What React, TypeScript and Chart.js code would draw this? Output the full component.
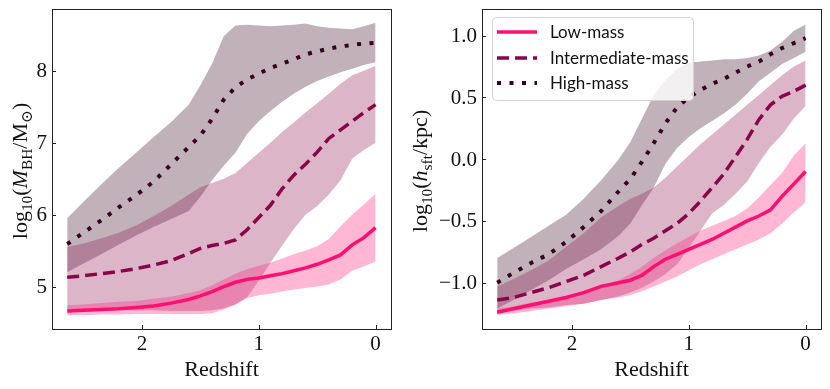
import React, { useEffect, useRef } from 'react';
import { Chart, registerables } from 'chart.js';
Chart.register(...registerables);

// ---------- data ----------
const redshift = [2.64, 2.5, 2.35, 2.2, 2.05, 1.9, 1.75, 1.6, 1.5, 1.4, 1.3, 1.2, 1.1, 1.0, 0.9, 0.8, 0.7, 0.6, 0.5, 0.4, 0.3, 0.2, 0.1, 0.0];

// left panel: log10(M_BH / Msun)
const bhLowMed = [4.66, 4.67, 4.68, 4.69, 4.71, 4.73, 4.77, 4.82, 4.87, 4.93, 5.0, 5.06, 5.1, 5.12, 5.15, 5.18, 5.22, 5.26, 5.31, 5.37, 5.44, 5.58, 5.68, 5.82];
const bhLowHi = [4.74, 4.75, 4.77, 4.79, 4.8, 4.83, 4.86, 4.91, 4.95, 5.02, 5.1, 5.18, 5.24, 5.29, 5.33, 5.39, 5.45, 5.5, 5.56, 5.66, 5.84, 6.0, 6.14, 6.29];
const bhLowLo = [4.6, 4.6, 4.61, 4.61, 4.62, 4.62, 4.62, 4.62, 4.62, 4.63, 4.68, 4.75, 4.84, 4.88, 4.9, 4.93, 4.96, 4.98, 5.0, 5.03, 5.1, 5.22, 5.28, 5.35];
const bhIntMed = [5.13, 5.15, 5.18, 5.21, 5.25, 5.3, 5.36, 5.46, 5.53, 5.57, 5.6, 5.65, 5.79, 5.96, 6.13, 6.36, 6.55, 6.7, 6.87, 7.06, 7.18, 7.3, 7.42, 7.53];
const bhIntHi = [5.55, 5.6, 5.67, 5.75, 5.85, 5.98, 6.12, 6.28, 6.38, 6.44, 6.5, 6.58, 6.72, 6.86, 7.0, 7.15, 7.28, 7.42, 7.55, 7.68, 7.82, 7.94, 8.0, 8.07];
const bhIntLo = [4.68, 4.68, 4.68, 4.68, 4.67, 4.67, 4.66, 4.66, 4.66, 4.67, 4.7, 4.75, 4.85, 5.08, 5.33, 5.57, 5.8, 6.0, 6.12, 6.28, 6.48, 6.78, 6.9, 7.0];
const bhHighMed = [5.59, 5.75, 5.92, 6.1, 6.27, 6.46, 6.7, 6.94, 7.1, 7.33, 7.6, 7.77, 7.88, 7.96, 8.04, 8.1, 8.16, 8.23, 8.27, 8.31, 8.34, 8.36, 8.38, 8.39];
const bhHighHi = [5.95, 6.18, 6.42, 6.65, 6.86, 7.08, 7.29, 7.53, 7.8, 8.1, 8.48, 8.63, 8.64, 8.63, 8.62, 8.63, 8.64, 8.66, 8.62, 8.6, 8.59, 8.58, 8.62, 8.67];
const bhHighLo = [5.2, 5.32, 5.45, 5.58, 5.71, 5.83, 5.94, 6.05, 6.25, 6.48, 6.68, 6.86, 7.12, 7.3, 7.44, 7.57, 7.68, 7.78, 7.86, 7.92, 7.98, 8.03, 8.08, 8.12];

// right panel: log10(h_sft / kpc)
const hLowMed = [-1.24, -1.21, -1.18, -1.15, -1.12, -1.08, -1.03, -1.0, -0.98, -0.94, -0.87, -0.81, -0.77, -0.73, -0.69, -0.65, -0.6, -0.55, -0.5, -0.46, -0.41, -0.3, -0.2, -0.1];
const hLowHi = [-1.21, -1.19, -1.16, -1.14, -1.11, -1.08, -1.03, -0.98, -0.93, -0.87, -0.8, -0.74, -0.68, -0.63, -0.58, -0.54, -0.5, -0.46, -0.4, -0.31, -0.21, -0.11, 0.03, 0.13];
const hLowLo = [-1.26, -1.25, -1.23, -1.21, -1.19, -1.17, -1.14, -1.12, -1.1, -1.07, -1.03, -0.99, -0.95, -0.9, -0.85, -0.81, -0.77, -0.73, -0.69, -0.65, -0.6, -0.52, -0.43, -0.35];
const hIntMed = [-1.14, -1.12, -1.08, -1.04, -0.99, -0.94, -0.87, -0.8, -0.75, -0.69, -0.64, -0.58, -0.52, -0.44, -0.34, -0.23, -0.12, 0.02, 0.16, 0.32, 0.44, 0.51, 0.55, 0.6];
const hIntHi = [-1.03, -0.97, -0.9, -0.82, -0.71, -0.6, -0.47, -0.38, -0.32, -0.28, -0.23, -0.15, -0.06, 0.03, 0.12, 0.2, 0.28, 0.36, 0.44, 0.52, 0.6, 0.68, 0.75, 0.8];
const hIntLo = [-1.25, -1.23, -1.21, -1.2, -1.18, -1.17, -1.14, -1.11, -1.08, -1.04, -0.99, -0.93, -0.85, -0.72, -0.58, -0.44, -0.37, -0.28, -0.18, -0.03, 0.1, 0.2, 0.33, 0.43];
const hHighMed = [-1.0, -0.92, -0.84, -0.77, -0.67, -0.55, -0.42, -0.26, -0.16, -0.02, 0.13, 0.29, 0.42, 0.5, 0.56, 0.61, 0.65, 0.7, 0.75, 0.79, 0.85, 0.9, 0.94, 0.98];
const hHighHi = [-0.8, -0.72, -0.63, -0.54, -0.45, -0.32, -0.17, 0.0, 0.14, 0.33, 0.52, 0.64, 0.73, 0.78, 0.79, 0.8, 0.81, 0.81, 0.82, 0.84, 0.88, 0.95, 1.04, 1.09];
const hHighLo = [-1.21, -1.14, -1.06, -0.98, -0.89, -0.81, -0.73, -0.62, -0.52, -0.37, -0.23, -0.04, 0.09, 0.18, 0.25, 0.31, 0.37, 0.44, 0.53, 0.63, 0.7, 0.77, 0.82, 0.87];

const xTicks = [2, 1, 0];
const xTickLabels = ['2', '1', '0'];
const bhTicks = [5, 6, 7, 8];
const bhTickLabels = ['5', '6', '7', '8'];
const hTicks = [-1, -0.5, 0, 0.5, 1];
const hTickLabels = ['\u22121.0', '\u22120.5', '0.0', '0.5', '1.0'];
const seriesNames = ['Low-mass', 'Intermediate-mass', 'High-mass'];

// ---------- styles ----------
const lineColors = ['#ff0f6f', '#8a0548', '#3a0020'];
const bandColors = ['rgba(255,15,111,0.30)', 'rgba(140,10,75,0.30)', 'rgba(50,0,28,0.30)'];
const dashes: number[][] = [[], [12, 6], [4, 8.5]];
const widths = [3.5, 3.5, 4];

const SERIF = '"Liberation Serif", "DejaVu Serif", serif';

type Seg = { t: string; it?: boolean; sub?: boolean };

function pts(ys: number[]) {
  return redshift.map((x, i) => ({ x, y: ys[i] }));
}

function buildDatasets(med: number[][], hi: number[][], lo: number[][]) {
  const ds: any[] = [];
  for (let k = 0; k < 3; k++) {
    const loIdx = ds.length;
    ds.push({
      data: pts(lo[k]), borderColor: 'rgba(0,0,0,0)', borderWidth: 1, pointRadius: 0,
      fill: false, order: 2, tension: 0,
    });
    ds.push({
      data: pts(hi[k]), borderColor: 'rgba(0,0,0,0)', borderWidth: 1, pointRadius: 0,
      fill: { target: loIdx }, backgroundColor: bandColors[k], order: 2, tension: 0,
    });
  }
  for (let k = 0; k < 3; k++) {
    ds.push({
      data: pts(med[k]), borderColor: lineColors[k], borderWidth: widths[k], borderDash: dashes[k],
      borderCapStyle: 'butt', pointRadius: 0, fill: false, order: 3 - k - 3 + k * 0, tension: 0,
    });
  }
  return ds;
}

function drawRich(ctx: CanvasRenderingContext2D, segs: Seg[], size: number) {
  const sub = size * 0.7;
  const fontFor = (s: Seg) => `${s.it ? 'italic ' : ''}${s.sub ? sub : size}px ${SERIF}`;
  let total = 0;
  for (const s of segs) { ctx.font = fontFor(s); total += ctx.measureText(s.t).width; }
  let x = -total / 2;
  ctx.textAlign = 'left';
  ctx.textBaseline = 'alphabetic';
  for (const s of segs) {
    ctx.font = fontFor(s);
    ctx.fillText(s.t, x, s.sub ? size * 0.22 : 0);
    x += ctx.measureText(s.t).width;
  }
}

function decorPlugin(cfg: {
  yTicks: number[]; yLabels: string[]; title: Seg[]; titleX: number; legend: boolean;
}) {
  return {
    id: 'decor',
    afterDatasetsDraw(chart: any) {
      const ctx: CanvasRenderingContext2D = chart.ctx;
      const a = chart.chartArea;
      const xs = chart.scales.x;
      const ys = chart.scales.y;
      ctx.save();
      // legend
      if (cfg.legend) {
        const bx = a.left + 10, by = 17, bw = 201, bh = 83;
        ctx.beginPath();
        (ctx as any).roundRect(bx + 0.5, by + 0.5, bw, bh, 4);
        ctx.fillStyle = 'rgba(255,255,255,0.8)';
        ctx.fill();
        ctx.strokeStyle = '#d3d3d3';
        ctx.lineWidth = 1;
        ctx.stroke();
        const rows = [32, 58, 83];
        for (let k = 0; k < 3; k++) {
          ctx.beginPath();
          ctx.setLineDash(dashes[k]);
          ctx.lineCap = 'butt';
          ctx.strokeStyle = lineColors[k];
          ctx.lineWidth = widths[k];
          ctx.moveTo(bx + 5, rows[k]);
          ctx.lineTo(bx + 45, rows[k]);
          ctx.stroke();
          ctx.setLineDash([]);
          ctx.fillStyle = '#111';
          ctx.font = '17px Lato, "Noto Sans", sans-serif';
          ctx.textAlign = 'left';
          ctx.textBaseline = 'middle';
          ctx.fillText(seriesNames[k], bx + 58, rows[k] + 1);
        }
      }
      // spines
      ctx.strokeStyle = '#222';
      ctx.lineWidth = 1;
      ctx.setLineDash([]);
      ctx.strokeRect(Math.round(a.left) + 0.5, Math.round(a.top) + 0.5, Math.round(a.right - a.left), Math.round(a.bottom - a.top));
      // ticks (inward)
      ctx.beginPath();
      for (const v of xTicks) {
        const px = Math.round(xs.getPixelForValue(v)) + 0.5;
        ctx.moveTo(px, a.bottom);
        ctx.lineTo(px, a.bottom - 4);
      }
      for (const v of cfg.yTicks) {
        const py = Math.round(ys.getPixelForValue(v)) + 0.5;
        ctx.moveTo(a.left, py);
        ctx.lineTo(a.left + 4, py);
      }
      ctx.stroke();
      // tick labels
      ctx.fillStyle = '#111';
      ctx.font = `21px ${SERIF}`;
      ctx.textAlign = 'center';
      ctx.textBaseline = 'alphabetic';
      xTicks.forEach((v, i) => {
        ctx.fillText(xTickLabels[i], xs.getPixelForValue(v), a.bottom + 21);
      });
      ctx.textAlign = 'right';
      ctx.textBaseline = 'middle';
      cfg.yTicks.forEach((v, i) => {
        ctx.fillText(cfg.yLabels[i], a.left - 5, ys.getPixelForValue(v) + 1);
      });
      // x title
      ctx.font = `22px ${SERIF}`;
      ctx.textAlign = 'center';
      ctx.textBaseline = 'alphabetic';
      ctx.fillText('Redshift', (a.left + a.right) / 2, 376);
      // y title
      ctx.save();
      ctx.translate(cfg.titleX, (a.top + a.bottom) / 2 + 2);
      ctx.rotate(-Math.PI / 2);
      drawRich(ctx, cfg.title, 22);
      ctx.restore();
      ctx.restore();
    },
  };
}

function makeChart(canvas: HTMLCanvasElement, p: {
  med: number[][]; hi: number[][]; lo: number[][]; ymin: number; ymax: number;
  padding: { left: number; right: number; top: number; bottom: number };
  yTicks: number[]; yLabels: string[]; title: Seg[]; titleX: number; legend: boolean;
}) {
  const datasets = buildDatasets(p.med, p.hi, p.lo);
  datasets.forEach((d, i) => { d.order = i >= 6 ? 0 : 1; });
  return new Chart(canvas, {
    type: 'line',
    data: { datasets },
    options: {
      responsive: false,
      animation: false,
      devicePixelRatio: 1,
      layout: { padding: p.padding },
      plugins: { legend: { display: false }, tooltip: { enabled: false } },
      scales: {
        x: { type: 'linear', reverse: true, min: -0.132, max: 2.77, display: false },
        y: { type: 'linear', min: p.ymin, max: p.ymax, display: false },
      },
    },
    plugins: [decorPlugin({ yTicks: p.yTicks, yLabels: p.yLabels, title: p.title, titleX: p.titleX, legend: p.legend })],
  } as any);
}

export default function App() {
  const leftRef = useRef<HTMLCanvasElement>(null);
  const rightRef = useRef<HTMLCanvasElement>(null);

  useEffect(() => {
    const c1 = makeChart(leftRef.current!, {
      med: [bhLowMed, bhIntMed, bhHighMed],
      hi: [bhLowHi, bhIntHi, bhHighHi],
      lo: [bhLowLo, bhIntLo, bhHighLo],
      ymin: 4.41, ymax: 8.86,
      padding: { left: 52, right: 9, top: 9, bottom: 60 },
      yTicks: bhTicks, yLabels: bhTickLabels,
      title: [{ t: 'log' }, { t: '10', sub: true }, { t: '(' }, { t: 'M', it: true }, { t: 'BH', sub: true }, { t: '/M' }, { t: '\u2299', sub: true }, { t: ')' }],
      titleX: 27, legend: false,
    });
    const c2 = makeChart(rightRef.current!, {
      med: [hLowMed, hIntMed, hHighMed],
      hi: [hLowHi, hIntHi, hHighHi],
      lo: [hLowLo, hIntLo, hHighLo],
      ymin: -1.375, ymax: 1.216,
      padding: { left: 82, right: 9, top: 9, bottom: 60 },
      yTicks: hTicks, yLabels: hTickLabels,
      title: [{ t: 'log' }, { t: '10', sub: true }, { t: '(' }, { t: 'h', it: true }, { t: 'sft', sub: true }, { t: '/kpc)' }],
      titleX: 27, legend: true,
    });
    return () => { c1.destroy(); c2.destroy(); };
  }, []);

  return (
    <div style={{ position: 'absolute', left: 0, top: 0, width: 830, height: 389, background: '#fff' }}>
      <canvas ref={leftRef} width={400} height={389} style={{ position: 'absolute', left: 0, top: 0 }} />
      <canvas ref={rightRef} width={430} height={389} style={{ position: 'absolute', left: 400, top: 0 }} />
    </div>
  );
}
